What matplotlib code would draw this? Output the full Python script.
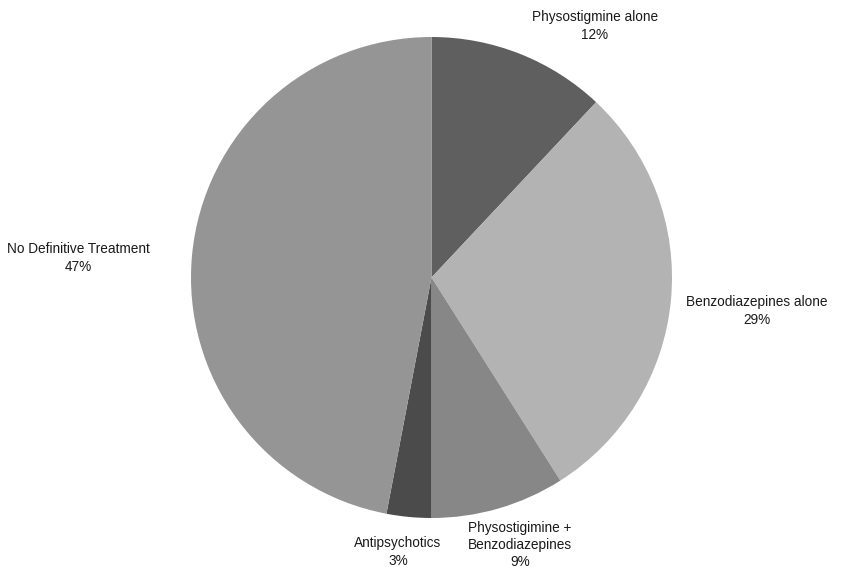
import matplotlib.pyplot as plt

plt.rcParams['font.family'] = ['Liberation Sans', 'DejaVu Sans']

# treatment groups, clockwise from 12 o'clock
labels = ['Physostigmine alone', 'Benzodiazepines alone',
          'Physostigimine +\nBenzodiazepines', 'Antipsychotics',
          'No Definitive Treatment']
shares = [12, 29, 9, 3, 47]
colors = ['#5f5f5f', '#b3b3b3', '#878787', '#4b4b4b', '#959595']

# label anchor points (pixels, origin bottom-left)
label_xy = [(595, 545), (757, 260), (520, 26), (398, 19), (78, 313)]

W, H = 861, 571
fig = plt.figure(figsize=(W / 100, H / 100), dpi=100)
ax = fig.add_axes([0, 0, 1, 1])

ax.pie(shares, colors=colors, startangle=90, counterclock=False,
       center=(431.5, H - 277.5), radius=240.5,
       wedgeprops=dict(linewidth=0))

# pie() resets the limits, so pixel coordinates are set afterwards
ax.set_xlim(0, W)
ax.set_ylim(0, H)
ax.set_aspect('equal')
ax.axis('off')

for lab, val, (x, y) in zip(labels, shares, label_xy):
    ax.text(x, y, f'{lab}\n{val}%', ha='center', va='center',
            fontsize=9.8, linespacing=1.28, color='#1a1a1a')

fig.savefig('out.png', dpi=100)
